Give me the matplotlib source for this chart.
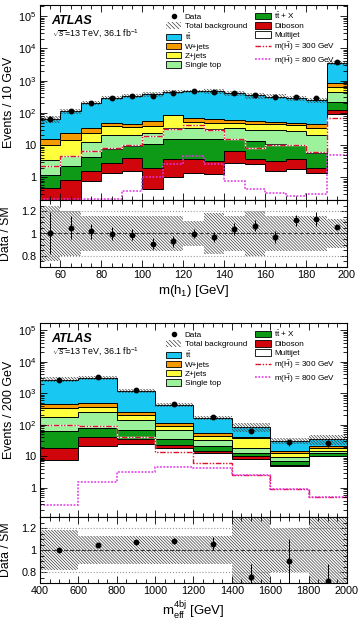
from __future__ import annotations

import matplotlib

matplotlib.use("Agg")
import matplotlib.pyplot as plt
import numpy as np
from matplotlib.lines import Line2D
from matplotlib.patches import Patch
from matplotlib.ticker import FuncFormatter, LogLocator, MultipleLocator, NullFormatter

plt.rcParams["font.family"] = ["Liberation Sans", "DejaVu Sans"]
plt.rcParams["mathtext.fontset"] = "custom"
plt.rcParams["mathtext.rm"] = "Liberation Sans"
plt.rcParams["mathtext.it"] = "Liberation Sans:italic"
plt.rcParams["mathtext.bf"] = "Liberation Sans:bold"
plt.rcParams["hatch.linewidth"] = 0.5

# ---- upper figure: m(h1), 10 GeV bins, last bin is overflow
MH_EDGES = [50, 60, 70, 80, 90, 100, 110, 120, 130, 140, 150, 160, 170, 180, 190, 200]
MH_DATA = [66, 118, 209, 290, 330, 340, 420, 470, 450, 420, 370, 310, 320, 280, 3700]
MH_MULTIJET = [0, 0, 0.79, 1.35, 1.6, 0.45, 1.0, 1.35, 1.3, 2.9, 2.6, 1.6, 1.8, 1.4, 90]
MH_DIBOSON = [0.48, 0.83, 0.81, 1.55, 2.3, 1.55, 2.6, 2.25, 1.9, 3.6, 1.0, 1.6, 2.0, 0.6, 35]
MH_TTX = [0.72, 1.47, 2.8, 4.5, 5.4, 9.0, 11.4, 12.4, 12.8, 9.5, 9.4, 7.3, 6.0, 3.8, 90]
MH_SINGLETOP = [2.2, 2.3, 8.0, 13.6, 11.7, 12, 19, 18, 16, 18, 17, 19.5, 17.2, 14.2, 235]
MH_ZJETS = [6.4, 9.4, 11.6, 17, 16, 17, 49, 17, 18, 14, 16, 14, 15, 14, 170]
MH_WJETS = [5.9, 10, 10, 11, 9, 17, 3, 18, 16, 14, 9, 8, 8, 12, 230]
MH_TTBAR = [50, 88, 171, 241, 287, 317, 366, 401, 398, 342, 291, 268, 236, 202, 2650]
MH_BAND = [0.25, 0.2, 0.16, 0.16, 0.16, 0.16, 0.16, 0.115, 0.18, 0.16, 0.2, 0.16, 0.155, 0.16, 0.13]
MH_RATIO_ERR = [0.19, 0.1, 0.07, 0.06, 0.05, 0.05, 0.05, 0.04, 0.045, 0.05, 0.05, 0.05, 0.05, 0.06, 0.02]
MH_SIG300 = [2.3, 4.6, 6.5, 8.3, 10, 19.8, 31.6, 43, 30, 15, 8.3, 9.8, 9.8, 6.1, 68]
MH_SIG800 = [0.21, 0.21, 0.21, 0.21, 0.38, 1.0, 2.7, 4.5, 2.7, 0.8, 0.43, 0.32, 0.27, 0.31, 4.8]

# ---- lower figure: m_eff^4bj, 200 GeV bins
MEFF_EDGES = [400, 600, 800, 1000, 1200, 1400, 1600, 1800, 2000]
MEFF_DATA = [2700, 3200, 1300, 470, 180, 66, 28, 26]
MEFF_MULTIJET = [7.8, 22, 25, 18, 12.7, 8.2, 5.0, 10]
MEFF_DIBOSON = [11.2, 20, 10, 5, 2.3, 2.3, 0.5, 0.5]
MEFF_TTX = [47, 36, 34, 12, 7, 2.5, 1.9, 2.5]
MEFF_SINGLETOP = [115, 172, 74, 34, 11, 6, 2.2, 2.3]
MEFF_ZJETS = [152, 125, 62, 26, 12, 19, 3.5, 3.7]
MEFF_WJETS = [124, 125, 45, 23, 9, 3, 1.3, 2.6]
MEFF_TTBAR = [2243, 2550, 965, 317, 116, 46, 16.6, 14.4]
MEFF_BAND = [0.18, 0.13, 0.13, 0.13, 0.13, 0.3, 0.2, 0.35]
MEFF_RATIO_ERR = [0.01, 0.015, 0.02, 0.03, 0.055, 0.11, 0.2, 0.15]
MEFF_SIG300 = [100, 89, 41, 13.4, 6.1, 2.5, 0.95, 0.5]
MEFF_SIG800 = [0.28, 1.5, 3.2, 4.5, 4.3, 2.5, 0.95, 0.5]

STACK_ORDER = ["Multijet", "Diboson", "ttX", "Single top", "Z+jets", "W+jets", "ttbar"]
COLORS = {
    "Multijet": "#FFFFFF",
    "Diboson": "#D0060C",
    "ttX": "#0E9A17",
    "Single top": "#9CF29A",
    "Z+jets": "#FFFF3C",
    "W+jets": "#F59B00",
    "ttbar": "#18C8F2",
}
LABELS = {
    "Multijet": "Multijet",
    "Diboson": "Diboson",
    "ttX": r"$\mathrm{t}\bar{\mathrm{t}}$ + X",
    "Single top": "Single top",
    "Z+jets": "Z+jets",
    "W+jets": "W+jets",
    "ttbar": r"$\mathrm{t}\bar{\mathrm{t}}$",
}
HATCH = "\\" * 11
HATCH_COLOR = "#3C3C3C"
SIG300_STYLE = dict(color="#E0102A", linewidth=1.0, linestyle=(0, (4, 1.2, 1, 1.2, 1, 1.2)))
SIG800_STYLE = dict(color="#E033E6", linewidth=1.1, linestyle=(0, (1.2, 1.0)))


def _log_label(value, _pos):
    exp = int(round(np.log10(value)))
    if exp == 0:
        return "1"
    if exp == 1:
        return "10"
    return rf"$10^{{{exp}}}$"


def _style_axes(ax, major_x, minor_x):
    ax.xaxis.set_major_locator(MultipleLocator(major_x))
    ax.xaxis.set_minor_locator(MultipleLocator(minor_x))
    ax.tick_params(which="both", direction="in", top=True, right=True, width=0.6,
                   labelsize=7.8, pad=2.5)
    ax.tick_params(which="major", length=5)
    ax.tick_params(which="minor", length=2.6)
    for spine in ax.spines.values():
        spine.set_linewidth(0.8)


def _draw_main(ax, edges, comps, data, band, ratio_err, sig300, sig800, ylim, ylabel, ylabel_y, text_y):
    edges = np.asarray(edges, dtype=float)
    base = np.full(len(data), 1e-3)
    for name in STACK_ORDER:
        top = base + np.asarray(comps[name], dtype=float)
        ax.stairs(top, edges, baseline=base, fill=True, color=COLORS[name], linewidth=0)
        base = top
    # outline of every layer on top of fills
    running = np.full(len(data), 1e-3)
    for name in STACK_ORDER:
        running = running + np.asarray(comps[name], dtype=float)
        ax.stairs(running, edges, baseline=None, color="black", linewidth=0.7)
    total = running
    band = np.asarray(band)
    ax.stairs(total * (1 + band), edges, baseline=total * (1 - band), fill=True,
              facecolor="none", edgecolor=HATCH_COLOR, hatch=HATCH, linewidth=0)

    ax.stairs(sig300, edges, baseline=None, color="white", linewidth=1.0)
    ax.stairs(sig300, edges, baseline=None, **SIG300_STYLE)
    ax.stairs(sig800, edges, baseline=None, **SIG800_STYLE)

    centers = 0.5 * (edges[:-1] + edges[1:])
    data = np.asarray(data, dtype=float)
    data_err = np.asarray(ratio_err) * total
    ax.errorbar(centers, data, yerr=data_err, fmt="o", color="black", markersize=3.2,
                elinewidth=0.7, capsize=0, zorder=5)

    ax.set_yscale("log")
    ax.set_xlim(edges[0], edges[-1])
    ax.set_ylim(*ylim)
    ax.yaxis.set_major_locator(LogLocator(base=10, numticks=12))
    ax.yaxis.set_minor_locator(LogLocator(base=10, subs=np.arange(2, 10), numticks=12))
    ax.yaxis.set_major_formatter(FuncFormatter(_log_label))
    ax.yaxis.set_minor_formatter(NullFormatter())
    ax.set_ylabel(ylabel, fontsize=9)
    ax.yaxis.set_label_coords(-0.082, ylabel_y)
    ax.tick_params(axis="x", labelbottom=False)

    ax.text(0.038, text_y, "ATLAS", transform=ax.transAxes, fontsize=9, fontweight="bold",
            fontstyle="italic", va="center")
    ax.text(0.038, text_y - 0.066, r"$\sqrt{s}$=13 TeV, 36.1 fb$^{-1}$", transform=ax.transAxes,
            fontsize=6.4, va="center")

    handles = [
        Line2D([], [], marker="o", color="black", linestyle="none", markersize=3),
        Patch(facecolor="none", edgecolor=HATCH_COLOR, hatch="\\" * 8, linewidth=0),
        Patch(facecolor=COLORS["ttbar"], edgecolor="black", linewidth=0.6),
        Patch(facecolor=COLORS["W+jets"], edgecolor="black", linewidth=0.6),
        Patch(facecolor=COLORS["Z+jets"], edgecolor="black", linewidth=0.6),
        Patch(facecolor=COLORS["Single top"], edgecolor="black", linewidth=0.6),
        Patch(facecolor=COLORS["ttX"], edgecolor="black", linewidth=0.6),
        Patch(facecolor=COLORS["Diboson"], edgecolor="black", linewidth=0.6),
        Patch(facecolor=COLORS["Multijet"], edgecolor="black", linewidth=0.6),
        Line2D([], [], **SIG300_STYLE),
        Line2D([], [], **SIG800_STYLE),
    ]
    labels = [
        "Data", "Total background", LABELS["ttbar"], LABELS["W+jets"], LABELS["Z+jets"],
        LABELS["Single top"], LABELS["ttX"], LABELS["Diboson"], LABELS["Multijet"],
        r"m($\tilde{\mathrm{H}}$) = 300 GeV", r"m($\tilde{\mathrm{H}}$) = 800 GeV",
    ]
    ax.legend(handles, labels, ncol=2, loc="upper left", bbox_to_anchor=(0.41, 0.972),
              frameon=False, fontsize=5.9, handlelength=1.9, handleheight=0.85,
              labelspacing=0.13, handletextpad=0.4, columnspacing=1.0, borderpad=0,
              borderaxespad=0)
    return total


def _draw_ratio(ax, edges, data, total, band, ratio_err, xlabel):
    edges = np.asarray(edges, dtype=float)
    band = np.asarray(band)
    ax.stairs(1 + band, edges, baseline=1 - band, fill=True, facecolor="none",
              edgecolor=HATCH_COLOR, hatch=HATCH, linewidth=0)
    for level, style, color in [(0.8, ":", "#9A9A9A"), (1.2, ":", "#9A9A9A"), (1.0, "--", "#333333")]:
        ax.axhline(level, linestyle=style, color=color, linewidth=0.8)
    centers = 0.5 * (edges[:-1] + edges[1:])
    ratio = np.asarray(data, dtype=float) / total
    ax.errorbar(centers, ratio, yerr=ratio_err, fmt="o", color="black", markersize=3.2,
                elinewidth=0.7, capsize=0, zorder=5)
    ax.set_xlim(edges[0], edges[-1])
    ax.set_ylim(0.7, 1.3)
    ax.set_yticks([0.8, 1.0, 1.2])
    ax.set_yticklabels(["0.8", "1", "1.2"])
    ax.yaxis.set_minor_locator(MultipleLocator(0.05))
    ax.set_ylabel("Data / SM", fontsize=8.8)
    ax.yaxis.set_label_coords(-0.092, 0.5)
    ax.set_xlabel(xlabel, fontsize=9.5, labelpad=2)


def run() -> None:
    fig = plt.figure(figsize=(3.6, 6.22), dpi=100)
    left, width = 40 / 360, 307 / 360

    ax_top = fig.add_axes([left, 1 - 200 / 622, width, 195 / 622])
    ax_top_r = fig.add_axes([left, 1 - 267 / 622, width, 67 / 622])
    ax_bot = fig.add_axes([left, 1 - 517 / 622, width, 194 / 622])
    ax_bot_r = fig.add_axes([left, 1 - 583 / 622, width, 66 / 622])

    mh_comps = {
        "Multijet": MH_MULTIJET, "Diboson": MH_DIBOSON, "ttX": MH_TTX,
        "Single top": MH_SINGLETOP, "Z+jets": MH_ZJETS, "W+jets": MH_WJETS, "ttbar": MH_TTBAR,
    }
    meff_comps = {
        "Multijet": MEFF_MULTIJET, "Diboson": MEFF_DIBOSON, "ttX": MEFF_TTX,
        "Single top": MEFF_SINGLETOP, "Z+jets": MEFF_ZJETS, "W+jets": MEFF_WJETS, "ttbar": MEFF_TTBAR,
    }

    total = _draw_main(ax_top, MH_EDGES, mh_comps, MH_DATA, MH_BAND, MH_RATIO_ERR,
                       MH_SIG300, MH_SIG800, (0.2, 2.2e5), "Events / 10 GeV", 0.5, 0.92)
    _draw_ratio(ax_top_r, MH_EDGES, MH_DATA, total, MH_BAND, MH_RATIO_ERR, r"m(h$_{1}$) [GeV]")

    total = _draw_main(ax_bot, MEFF_EDGES, meff_comps, MEFF_DATA, MEFF_BAND, MEFF_RATIO_ERR,
                       MEFF_SIG300, MEFF_SIG800, (0.12, 1.7e5), "Events / 200 GeV", 0.55, 0.918)
    _draw_ratio(ax_bot_r, MEFF_EDGES, MEFF_DATA, total, MEFF_BAND, MEFF_RATIO_ERR,
                r"m$_{\mathrm{eff}}^{\mathrm{4bj}}$ [GeV]")

    for ax in (ax_top, ax_top_r):
        _style_axes(ax, 20, 5)
    for ax in (ax_bot, ax_bot_r):
        _style_axes(ax, 200, 50)
    ax_top.tick_params(axis="x", labelbottom=False)
    ax_bot.tick_params(axis="x", labelbottom=False)

    fig.savefig("out.png", dpi=100)
    plt.close(fig)


if __name__ == "__main__":
    run()
